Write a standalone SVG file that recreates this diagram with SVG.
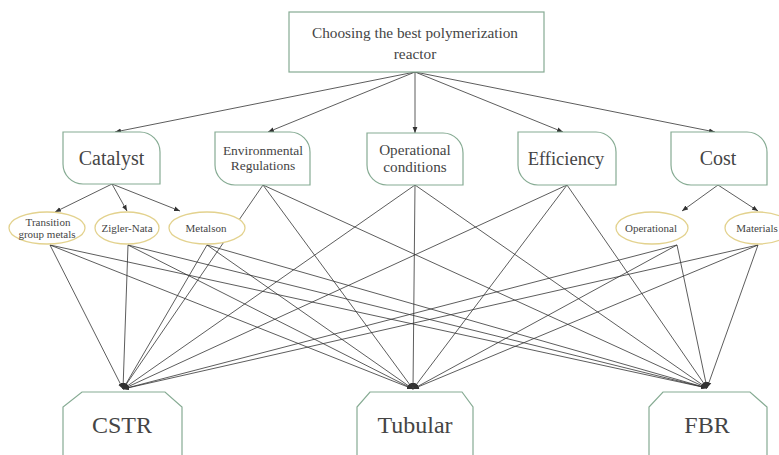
<svg xmlns="http://www.w3.org/2000/svg" width="779" height="455" viewBox="0 0 779 455">
<defs>
<marker id="ah" viewBox="0 0 10 10" refX="10" refY="5" markerWidth="6" markerHeight="6" markerUnits="userSpaceOnUse" orient="auto">
<path d="M0,1 L10,5 L0,9 Z" fill="#333"/>
</marker>
</defs>
<style>
.box{fill:#fff;stroke:#86ab93;stroke-width:1.2}
.ell{fill:#fff;stroke:#e3d28e;stroke-width:1.3}
.t{font-family:"Liberation Serif","Times New Roman",serif;fill:#454545;text-anchor:middle}
.c line{stroke:#333;stroke-width:0.8;marker-end:url(#ah)}
</style>
<rect width="779" height="455" fill="#fff"/>
<g class="c" id="connectors">
<line x1="415" y1="72" x2="115" y2="132"/>
<line x1="415" y1="72" x2="268" y2="132"/>
<line x1="415" y1="72" x2="415" y2="133"/>
<line x1="415" y1="72" x2="563" y2="132"/>
<line x1="415" y1="72" x2="715" y2="132"/>
<line x1="112" y1="184" x2="55" y2="212"/>
<line x1="112" y1="184" x2="127" y2="211"/>
<line x1="112" y1="184" x2="180" y2="211"/>
<line x1="718" y1="185" x2="682" y2="211"/>
<line x1="718" y1="185" x2="758" y2="211"/>
<line x1="50" y1="245" x2="123" y2="389"/>
<line x1="50" y1="245" x2="413" y2="389"/>
<line x1="50" y1="245" x2="707" y2="388"/>
<line x1="128" y1="245" x2="123" y2="389"/>
<line x1="128" y1="245" x2="413" y2="389"/>
<line x1="128" y1="245" x2="707" y2="388"/>
<line x1="207" y1="245" x2="123" y2="389"/>
<line x1="207" y1="245" x2="413" y2="389"/>
<line x1="207" y1="245" x2="707" y2="388"/>
<line x1="263" y1="185" x2="123" y2="389"/>
<line x1="263" y1="185" x2="413" y2="389"/>
<line x1="263" y1="185" x2="707" y2="388"/>
<line x1="415" y1="185" x2="123" y2="389"/>
<line x1="415" y1="185" x2="413" y2="389"/>
<line x1="415" y1="185" x2="707" y2="388"/>
<line x1="567" y1="185" x2="123" y2="389"/>
<line x1="567" y1="185" x2="413" y2="389"/>
<line x1="567" y1="185" x2="707" y2="388"/>
<line x1="677" y1="245" x2="123" y2="389"/>
<line x1="677" y1="245" x2="413" y2="389"/>
<line x1="677" y1="245" x2="707" y2="388"/>
<line x1="758" y1="245" x2="123" y2="389"/>
<line x1="758" y1="245" x2="413" y2="389"/>
<line x1="758" y1="245" x2="707" y2="388"/>
</g>
<g id="goal">
<rect class="box" x="289" y="12" width="255" height="60"/>
<text class="t" x="415" y="38" font-size="15.3">Choosing the best polymerization</text>
<text class="t" x="415" y="59" font-size="15.3">reactor</text>
</g>
<g id="catalyst">
<path class="box" d="M63,132 H140 A20,20 0 0 1 160,152 V184 H83 A20,20 0 0 1 63,164 Z"/>
<text class="t" x="111.5" y="165" font-size="20">Catalyst</text>
</g>
<g id="environmental">
<path class="box" d="M215,132 H290 A20,20 0 0 1 310,152 V185 H235 A20,20 0 0 1 215,165 Z"/>
<text class="t" x="263" y="155" font-size="13.5">Environmental</text>
<text class="t" x="263" y="170" font-size="13.5">Regulations</text>
</g>
<g id="operational-conditions">
<path class="box" d="M367,133 H443 A20,20 0 0 1 463,153 V185 H387 A20,20 0 0 1 367,165 Z"/>
<text class="t" x="415" y="155" font-size="15.2">Operational</text>
<text class="t" x="415" y="172" font-size="15.2">conditions</text>
</g>
<g id="efficiency">
<path class="box" d="M518,132 H596 A20,20 0 0 1 616,152 V185 H538 A20,20 0 0 1 518,165 Z"/>
<text class="t" x="566" y="165" font-size="18.5">Efficiency</text>
</g>
<g id="cost">
<path class="box" d="M671,132 H747 A20,20 0 0 1 767,152 V185 H691 A20,20 0 0 1 671,165 Z"/>
<text class="t" x="718" y="165" font-size="20">Cost</text>
</g>
<g id="transition">
<ellipse class="ell" cx="47" cy="228" rx="38" ry="16"/>
<text class="t" x="48" y="226" font-size="11">Transition</text>
<text class="t" x="47" y="238" font-size="11">group metals</text>
</g>
<g id="zigler-nata">
<ellipse class="ell" cx="127" cy="228" rx="32" ry="16"/>
<text class="t" x="127" y="232" font-size="11">Zigler-Nata</text>
</g>
<g id="metalson">
<ellipse class="ell" cx="207" cy="228" rx="38" ry="16"/>
<text class="t" x="206" y="232" font-size="11">Metalson</text>
</g>
<g id="operational">
<ellipse class="ell" cx="652" cy="228" rx="36" ry="16"/>
<text class="t" x="651" y="232" font-size="11">Operational</text>
</g>
<g id="materials">
<ellipse class="ell" cx="758" cy="228" rx="33" ry="16"/>
<text class="t" x="757" y="232" font-size="11">Materials</text>
</g>
<g id="cstr">
<path class="box" d="M63,460 V407 L82,392 H165 L182,407 V460"/>
<text class="t" x="122" y="433" font-size="24">CSTR</text>
</g>
<g id="tubular">
<path class="box" d="M357,460 V407 L370,392 H462 L473,407 V460"/>
<text class="t" x="415" y="433" font-size="24">Tubular</text>
</g>
<g id="fbr">
<path class="box" d="M649,460 V407 L663,392 H750 L767,407 V460"/>
<text class="t" x="707" y="433" font-size="24">FBR</text>
</g>
</svg>
